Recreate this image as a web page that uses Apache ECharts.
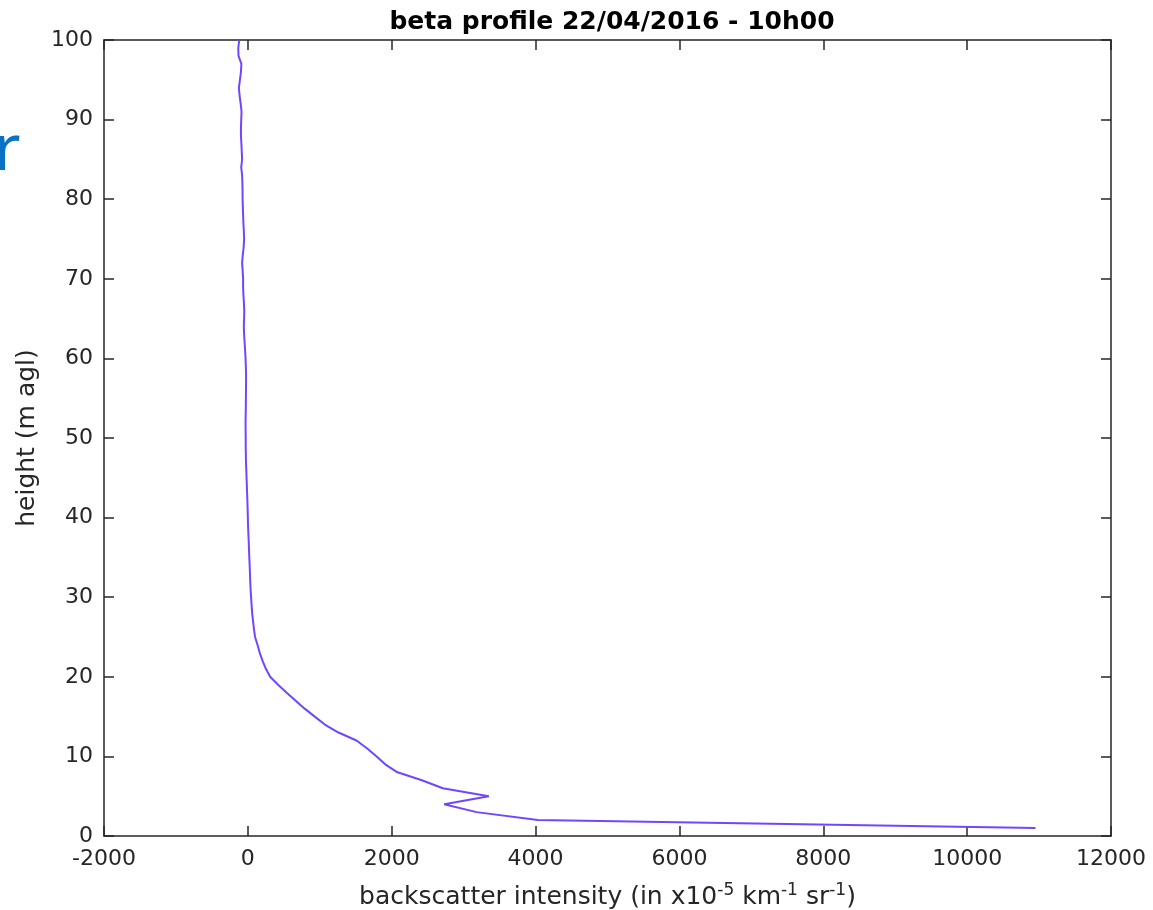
<!DOCTYPE html>
<html>
<head>
<meta charset="utf-8">
<script src="https://cdn.jsdelivr.net/npm/echarts@6/dist/echarts.min.js"></script>
<style>html,body{margin:0;padding:0;background:#fff}#c{width:1153px;height:910px}</style>
</head>
<body>
<div id="c"></div>
<script>
var heights = [];
for (var h = 1; h <= 100; h++) heights.push(h);
var beta = [10950, 4030, 3180, 2730, 3350, 2710, 2420, 2080, 1910, 1790,
  1660, 1510, 1260, 1070, 930, 790, 665, 540, 420, 310,
  250, 205, 165, 135, 100, 85, 72, 60, 52, 45,
  38, 33, 29, 25, 20, 16, 12, 7, 3, 0,
  -3, -6, -10, -14, -18, -22, -26, -28, -30, -30,
  -31, -32, -30, -28, -27, -26, -25, -25, -28, -32,
  -38, -45, -52, -56, -52, -50, -55, -62, -66, -66,
  -72, -80, -70, -58, -52, -56, -62, -66, -70, -73,
  -74, -76, -80, -92, -80, -85, -90, -96, -96, -92,
  -88, -100, -115, -125, -110, -96, -90, -130, -133, -120];
var xTicks = [-2000, 0, 2000, 4000, 6000, 8000, 10000, 12000];
var yTicks = [0, 10, 20, 30, 40, 50, 60, 70, 80, 90, 100];
var titleText = 'beta profile 22/04/2016 - 10h00';
var yName = 'height (m agl)';

var chart = echarts.init(document.getElementById('c'), null, {renderer: 'canvas'});
var axisCol = '#262626';
var font = 'DejaVu Sans';
function plain(v) { return String(v); }
function xAx(pos, show) {
  return {
    type: 'value', position: pos, min: xTicks[0], max: xTicks[xTicks.length - 1], interval: 2000,
    axisLine: {show: true, onZero: false, lineStyle: {color: axisCol, width: 1.5}},
    axisTick: {show: true, inside: true, length: 10, lineStyle: {color: axisCol, width: 1.5}},
    axisLabel: {show: show, color: axisCol, fontSize: 22, fontFamily: font, margin: 12, formatter: plain},
    splitLine: {show: false}
  };
}
function yAx(pos, show) {
  return {
    type: 'value', position: pos, min: yTicks[0], max: yTicks[yTicks.length - 1], interval: 10,
    axisLine: {show: true, onZero: false, lineStyle: {color: axisCol, width: 1.5}},
    axisTick: {show: true, inside: true, length: 10, lineStyle: {color: axisCol, width: 1.5}},
    axisLabel: {show: show, color: axisCol, fontSize: 22, fontFamily: font, margin: 11, formatter: plain},
    splitLine: {show: false}
  };
}
var xa = xAx('bottom', true);
xa.name = '{a|backscatter intensity (in x10}{s|-5}{a| km}{s|-1}{a| sr}{s|-1}{a|)}';
xa.nameLocation = 'middle';
xa.nameGap = 46;
xa.nameTextStyle = {rich: {
  a: {fontSize: 25, fontFamily: font, color: axisCol},
  s: {fontSize: 17, fontFamily: font, color: axisCol, padding: [0, 0, 14, 0]}
}};
var ya = yAx('left', true);
ya.name = yName;
ya.nameLocation = 'middle';
ya.nameGap = 58;
ya.nameTextStyle = {fontSize: 25, fontFamily: font, color: axisCol};

chart.setOption({
  animation: false,
  backgroundColor: '#ffffff',
  title: {text: titleText, left: 607, top: 5, textAlign: 'center',
    textStyle: {fontSize: 25, fontWeight: 'bold', fontFamily: font, color: '#000'}},
  grid: {left: 104, right: 42, top: 40, bottom: 74, containLabel: false, outerBoundsMode: 'none'},
  xAxis: [xa, xAx('top', false)],
  yAxis: [ya, yAx('right', false)],
  graphic: [{type: 'text', left: -6, top: 120, style: {text: 'r', fontSize: 64, fontFamily: 'Noto Sans', fill: '#0a72c4'}}],
  series: [{
    type: 'line', xAxisIndex: 0, yAxisIndex: 0,
    data: heights.map(function (h, i) { return [beta[i], h]; }),
    showSymbol: false, symbol: 'none',
    lineStyle: {color: '#7046ff', width: 2}
  }]
});
</script>
</body>
</html>
